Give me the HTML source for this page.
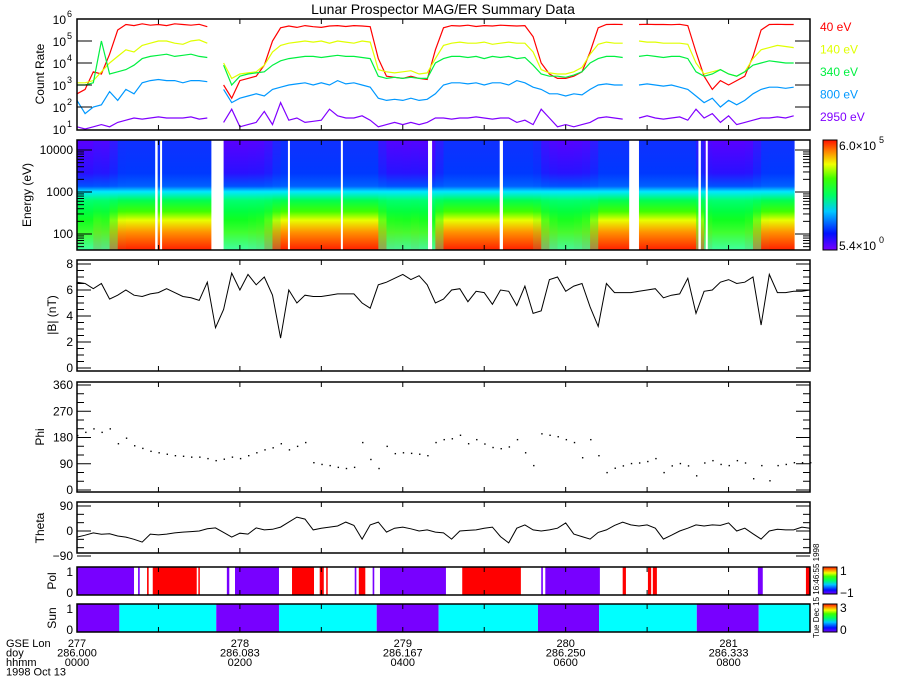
<!DOCTYPE html>
<html><head><meta charset="utf-8">
<style>
html,body{margin:0;padding:0;background:#fff;}
svg{display:block;font-family:"Liberation Sans",sans-serif;}
</style></head>
<body>
<svg id="chart" width="900" height="700" viewBox="0 0 900 700" xmlns="http://www.w3.org/2000/svg">
<defs>
<linearGradient id="cbar" x1="0" y1="1" x2="0" y2="0">
<stop offset="0" stop-color="#7800ff"/><stop offset="0.15" stop-color="#0010ff"/><stop offset="0.35" stop-color="#00c8ff"/><stop offset="0.5" stop-color="#00ff60"/><stop offset="0.65" stop-color="#40ff00"/><stop offset="0.78" stop-color="#f0ff00"/><stop offset="0.9" stop-color="#ff8000"/><stop offset="1" stop-color="#ff1000"/>
</linearGradient>
</defs>
<text x="443" y="14" text-anchor="middle" font-size="14">Lunar Prospector MAG/ER Summary Data</text>
</svg>
<script>
// ---- data (time grid: hours after 0000, step 0.1h) ----
const timeStep = 0.1;
const log40 = [2.6,2.8,3.6,3.5,4.4,5.5,5.75,5.7,5.78,5.72,5.75,5.7,5.78,5.75,5.72,5.76,5.65,null,3.0,2.4,3.2,3.3,3.4,3.9,5.0,5.6,5.68,5.62,5.7,5.65,5.62,5.68,5.7,5.66,5.7,5.68,5.65,4.2,3.4,3.35,3.3,3.4,3.3,3.25,4.6,5.6,5.7,5.68,5.72,5.66,5.7,5.68,5.72,5.7,5.68,5.7,5.2,4.0,3.5,3.3,3.3,3.4,3.6,4.5,5.6,5.75,5.76,5.75,null,5.75,5.76,5.75,5.75,5.74,5.76,5.7,4.5,3.4,2.8,3.2,3.0,3.2,3.4,4.3,5.5,5.75,5.76,5.75,5.75,null,null];
const log140 = [3.1,3.1,3.2,3.6,4.0,4.3,4.6,4.5,4.8,4.9,5.0,5.0,4.9,4.85,5.0,5.05,4.9,null,4.0,3.3,3.5,3.55,3.6,3.9,4.5,4.8,4.9,4.95,5.0,4.95,5.0,4.9,5.0,4.95,4.9,5.0,4.95,3.7,3.6,3.55,3.6,3.65,3.5,3.55,4.2,4.8,4.9,4.95,4.9,4.9,4.95,4.85,4.9,4.95,4.9,4.9,4.5,3.7,3.55,3.5,3.5,3.6,3.8,4.4,4.85,4.95,4.9,4.9,null,5.0,4.95,4.95,4.9,4.9,4.9,4.85,4.0,3.5,3.6,3.7,3.5,3.4,3.6,4.2,4.6,4.7,4.8,4.75,4.7,null,null];
const log340 = [3.0,3.0,3.1,5.0,3.5,3.6,3.7,3.9,4.2,4.3,4.35,4.4,4.3,4.35,4.4,4.3,4.25,null,3.9,3.0,3.4,3.5,3.55,3.6,3.9,4.1,4.2,4.25,4.3,4.3,4.25,4.3,4.35,4.3,4.3,4.25,4.2,3.4,3.3,3.35,3.3,3.35,3.3,3.3,4.0,4.2,4.3,4.3,4.25,4.3,4.2,4.3,4.25,4.3,4.2,4.25,3.9,3.5,3.4,3.4,3.35,3.45,3.6,4.0,4.2,4.3,4.3,4.25,null,4.3,4.35,4.3,4.25,4.3,4.3,4.2,3.6,3.4,3.5,3.7,3.5,3.4,3.6,3.9,4.0,4.1,4.05,4.0,4.0,null,null];
const log800 = [2.3,1.7,2.0,2.1,2.7,2.3,2.8,2.6,3.1,3.2,3.25,3.2,3.2,3.1,3.2,3.2,3.15,null,2.8,2.2,2.4,2.5,2.6,2.5,2.8,2.9,3.0,3.05,3.1,3.0,3.1,3.0,3.2,3.05,3.1,3.0,2.9,2.4,2.3,2.35,2.3,2.4,2.3,2.35,2.6,3.0,3.1,3.1,3.05,3.1,3.0,3.1,3.1,3.0,3.2,3.1,2.9,2.8,2.6,2.6,2.5,2.6,2.55,2.8,3.0,3.05,3.0,3.0,null,3.0,3.05,3.0,2.95,3.0,2.9,2.8,2.5,2.2,2.4,2.0,2.3,2.1,2.3,2.6,2.8,2.9,2.9,2.85,2.9,null,null];
const log2950 = [1.1,1.0,1.1,1.2,1.1,1.3,1.4,1.5,1.45,1.5,1.55,1.5,1.5,1.5,1.55,1.45,1.5,null,1.3,1.9,1.1,1.2,1.3,1.8,1.2,2.2,1.4,1.5,1.3,1.35,1.4,1.9,1.6,1.5,1.5,1.6,1.4,1.1,1.2,1.3,1.2,1.3,1.2,1.3,1.5,1.5,1.45,1.5,1.5,1.55,1.5,1.45,1.5,1.5,1.3,1.4,1.2,1.9,1.5,1.1,1.2,1.1,1.2,1.3,1.5,1.55,1.5,1.45,null,1.5,1.6,1.5,1.45,1.5,1.55,1.4,1.9,1.5,1.7,1.3,1.6,1.2,1.3,1.4,1.5,1.5,1.55,1.5,1.6,null,null];
const bMag = [6.6,6.5,6.1,6.5,5.3,5.6,6.0,5.6,5.5,5.7,5.8,6.1,5.8,5.5,5.4,5.2,6.6,3.1,4.5,7.3,6.0,7.2,6.4,7.0,5.6,2.3,6.0,5.0,5.6,5.5,5.5,5.6,5.7,5.7,5.7,5.0,4.6,6.4,6.6,6.9,7.2,6.8,7.1,6.4,5.0,5.3,6.0,6.1,5.1,5.9,5.8,4.9,6.0,5.9,4.8,6.3,4.2,4.4,6.8,7.0,5.9,6.3,6.5,4.7,3.2,6.5,5.8,5.8,5.8,5.9,6.0,6.1,5.4,5.6,5.7,6.9,4.2,5.9,6.0,6.6,6.8,6.5,6.6,7.0,3.3,7.2,5.8,5.8,5.9,5.9,6.0];
const phi = [189,200,212,200,212,161,180,154,145,135,130,125,120,118,115,115,110,103,108,115,110,120,130,140,147,161,140,152,165,96,90,86,80,76,80,165,107,76,152,127,130,128,125,120,165,175,178,190,161,175,160,148,144,150,175,130,86,195,190,185,175,165,113,175,120,62,77,85,93,95,100,110,62,85,93,85,51,95,103,90,86,103,95,41,86,34,86,90,96,96,96];
const theta = [-22,-15,-7,-12,-10,-18,-22,-30,-40,-11,-14,-11,-7,-4,-2,0,8,11,-5,-22,-8,-11,11,4,6,14,32,50,43,4,10,14,18,32,20,-29,22,32,-4,10,14,8,0,4,-4,-7,-29,0,2,4,10,14,-20,-43,10,22,4,0,4,10,29,-11,-20,-29,-5,4,20,32,22,18,22,10,-29,-15,0,10,22,18,22,20,29,0,10,-10,-29,0,6,4,4,14,10];
const specGaps = [[0.96,0.99],[1.02,1.03],[1.65,1.76],[2.59,2.61],[3.24,3.26],[4.31,4.36],[5.19,5.23],[6.78,6.89],[7.63,7.66],[7.72,7.74]];
const polStart = [0,0.75,0.86,0.93,1.49,1.84,1.94,2.64,2.98,3.06,3.41,3.46,3.63,3.72,4.73,5.70,5.75,6.70,7.01,7.07,8.36,8.95];
const polEnd   = [0.70,0.77,0.88,1.47,1.50,1.87,2.48,2.91,3.03,3.07,3.43,3.54,3.65,4.53,5.45,5.72,6.42,6.74,7.05,7.12,8.42,9.00];
const polValue = [-1,-1,1,1,1,-1,-1,1,1,1,-1,1,-1,-1,1,-1,-1,1,1,1,-1,1];
const sunStart = [0,0.52,1.71,2.48,3.68,4.44,5.66,6.41,7.61,8.37];
const sunEnd   = [0.52,1.71,2.48,3.68,4.44,5.66,6.41,7.61,8.37,9.0];
const sunValue = [0,1,0,1,0,1,0,1,0,1];
const countLabels = ["40 eV","140 eV","340 eV","800 eV","2950 eV"];
const lonLabels = ["277","278","279","280","281"];
const doyLabels = ["286.000","286.083","286.167","286.250","286.333"];
const hhmmLabels = ["0000","0200","0400","0600","0800"];
const bTicks = [0,2,4,6,8];
const phiTicks = [0,90,180,270,360];
const thetaTicks = [-90,0,90];
const energyTicks = [100,1000,10000];

// ---- layout ----
const svg = document.getElementById('chart');
const NS = 'http://www.w3.org/2000/svg';
const X0 = 77, X1 = 810, TMAX = 9;
const xs = t => X0 + t / TMAX * (X1 - X0);
const yCount = l => 19 + (6 - l) * 22;
const yEnergy = e => 150 + (4 - Math.log10(e)) * 42;
const yB = v => 368 - v * 13;
const yPhi = v => 490 - v * 105 / 360;
const yTheta = v => 531 - v * 25 / 90;
function mk(tag, attrs, parent) {
  const el = document.createElementNS(NS, tag);
  for (const k in attrs) el.setAttribute(k, attrs[k]);
  (parent || svg).appendChild(el);
  return el;
}
function txt(x, y, s, size, extra) {
  const t = mk('text', Object.assign({x: x, y: y, 'font-size': size || 12}, extra || {}));
  t.textContent = s;
  return t;
}
function frame(y0, y1, name) {
  const r = mk('rect', {x: X0, y: y0, width: X1 - X0, height: y1 - y0, fill: 'none', stroke: '#000', 'stroke-width': 1.5});
  
  
  for (let h = 1; h < TMAX; h++) {
    mk('line', {x1: xs(h), x2: xs(h), y1: y0, y2: y0 + 5, stroke: '#000'});
    mk('line', {x1: xs(h), x2: xs(h), y1: y1, y2: y1 - 5, stroke: '#000'});
  }
}
function ylab(x, y, s, name) {
  const t = txt(x, y, s, 12, {transform: 'rotate(-90 ' + x + ' ' + y + ')', 'text-anchor': 'middle'});
  
  
}
function linePath(arr, yf, color, name, w) {
  let d = '', pen = false;
  arr.forEach((v, i) => {
    if (v === null) { pen = false; return; }
    d += (pen ? 'L' : 'M') + xs(i * timeStep).toFixed(1) + ' ' + yf(v).toFixed(1);
    pen = true;
  });
  const p = mk('path', {d: d, fill: 'none', stroke: color, 'stroke-width': w || 1.2});
  
  
}

// ---- panel 1: count rates ----
const g1 = mk('g', {});


const countSeries = [log40, log140, log340, log800, log2950];
const countColors = ['#ff0000', '#e0ff00', '#00f040', '#0098ff', '#8000ff'];
countSeries.forEach((s, k) => linePath(s, yCount, countColors[k], 'count-line-' + countLabels[k].replace(' ', '-').toLowerCase()));
frame(19, 130, 'count-rate-frame');
for (let e = 1; e <= 6; e++) {
  const y = yCount(e);
  if (e < 6 && e > 1) {
    mk('line', {x1: X0, x2: X0 + 15, y1: y, y2: y, stroke: '#000'});
    mk('line', {x1: X1, x2: X1 - 15, y1: y, y2: y, stroke: '#000'});
  }
  const t = txt(66, y + 5, '10', 12, {'text-anchor': 'end'});
  
  
  txt(67, y - 2, String(e), 9);
}
ylab(44, 74, 'Count Rate', 'count-rate-axis-title');
countLabels.forEach((s, k) => {
  const t = txt(820, 31 + k * 22.5, s, 12, {fill: countColors[k]});
  
  
});

// ---- panel 2: spectrogram ----
const g2 = mk('g', {});


const wakeStops = ['#5a00ff','#2a10ff','#0050ff','#00e8ff','#00ff70','#00ff40','#10ff20','#40ff30','#40ffa0'];
const sheathStops = ['#1030ff','#0038ff','#0060ff','#00e8ff','#00ff50','#40ff00','#e8ff00','#ff9000','#ff2000'];
const stopOffs = [0, 0.3, 0.42, 0.47, 0.55, 0.65, 0.73, 0.84, 1];
function mixHex(a, b, f) {
  const pa = [1,3,5].map(i => parseInt(a.substr(i,2),16)), pb = [1,3,5].map(i => parseInt(b.substr(i,2),16));
  return 'rgb(' + pa.map((v,i) => Math.round(v + (pb[i]-v)*f)).join(',') + ')';
}
const defs = svg.querySelector('defs');
log40.forEach((v, i) => {
  if (v === null) return;
  const lv = Math.max(0, Math.min(1, (v - 3.2) / 2.4));
  const gid = 'sg' + i;
  const lg = mk('linearGradient', {id: gid, x1: 0, y1: 0, x2: 0, y2: 1}, defs);
  stopOffs.forEach((o, k) => mk('stop', {offset: o, 'stop-color': mixHex(wakeStops[k], sheathStops[k], lv)}, lg));
  const x0 = xs(i * timeStep), x1 = Math.min(xs((i + 1) * timeStep), 794);
  if (x1 <= x0) return;
  const r = mk('rect', {x: x0, y: 140, width: x1 - x0 + 0.6, height: 110, fill: 'url(#' + gid + ')'}, g2);
  
  
});
specGaps.forEach(gp => {
  const r = mk('rect', {x: xs(gp[0]), y: 140, width: Math.max(2, xs(gp[1]) - xs(gp[0])), height: 110, fill: '#fff'}, g2);
  
  
});
frame(140, 250, 'spectrogram-frame');
for (let dec = 1; dec <= 4; dec++) {
  for (let m = 1; m <= 9; m++) {
    const e = m * Math.pow(10, dec);
    const y = yEnergy(e);
    if (y < 140 || y > 250) continue;
    const len = m === 1 ? 15 : 7;
    mk('line', {x1: X0, x2: X0 + len, y1: y, y2: y, stroke: '#000'});
    mk('line', {x1: X1, x2: X1 - len, y1: y, y2: y, stroke: '#000'});
  }
}
energyTicks.forEach(e => {
  const t = txt(73, yEnergy(e) + 4, String(e), 12, {'text-anchor': 'end'});
  
  
});
ylab(31, 195, 'Energy (eV)', 'energy-axis-title');
const cb = mk('rect', {x: 823, y: 140, width: 14, height: 110, fill: 'url(#cbar)', stroke: '#000'});


txt(839, 150, '6.0×10', 12); txt(879, 143, '5', 9);
txt(839, 250, '5.4×10', 12); txt(879, 243, '0', 9);

// ---- panel 3: |B| ----
linePath(bMag, yB, '#000', 'b-magnitude-line', 1);
frame(260, 371, 'b-magnitude-frame');
for (let v = 0; v <= 8; v += 0.5) {
  const len = v % 2 === 0 ? 14 : 7;
  mk('line', {x1: X0, x2: X0 + len, y1: yB(v), y2: yB(v), stroke: '#000'});
  mk('line', {x1: X1, x2: X1 - len, y1: yB(v), y2: yB(v), stroke: '#000'});
}
bTicks.forEach(v => {
  const t = txt(73, yB(v) + 4, String(v), 12, {'text-anchor': 'end'});
  
  
});
ylab(56, 315, '|B| (nT)', 'b-axis-title');

// ---- panel 4: Phi ----
phi.forEach((v, i) => {
  const c = mk('rect', {x: xs(i * timeStep), y: yPhi(v), width: 1.4, height: 1.4, fill: '#000'});
  
  
});
frame(382, 492, 'phi-frame');
for (let v = 0; v <= 360; v += 30) {
  const len = v % 90 === 0 ? 14 : 7;
  mk('line', {x1: X0, x2: X0 + len, y1: yPhi(v), y2: yPhi(v), stroke: '#000'});
  mk('line', {x1: X1, x2: X1 - len, y1: yPhi(v), y2: yPhi(v), stroke: '#000'});
}
phiTicks.forEach(v => {
  const t = txt(73, yPhi(v) + 4, String(v), 12, {'text-anchor': 'end'});
  
  
});
ylab(44, 437, 'Phi', 'phi-axis-title');

// ---- panel 5: Theta ----
linePath(theta, yTheta, '#000', 'theta-line', 1);
frame(502, 553, 'theta-frame');
for (let v = -90; v <= 90; v += 30) {
  const len = v % 90 === 0 ? 14 : 7;
  mk('line', {x1: X0, x2: X0 + len, y1: yTheta(v), y2: yTheta(v), stroke: '#000'});
  mk('line', {x1: X1, x2: X1 - len, y1: yTheta(v), y2: yTheta(v), stroke: '#000'});
}
thetaTicks.forEach(v => {
  const t = txt(73, yTheta(v) + 4, v < 0 ? '\u2212' + (-v) : String(v), 12, {'text-anchor': 'end'});
  
  
});
ylab(44, 528, 'Theta', 'theta-axis-title');

// ---- panel 6: Pol ----
polStart.forEach((s, i) => {
  const r = mk('rect', {x: xs(s), y: 567, width: Math.max(1.5, xs(polEnd[i]) - xs(s)), height: 28, fill: polValue[i] > 0 ? '#ff0000' : '#7800ff'});
  
  
});
frame(567, 595, 'pol-frame');
txt(73, 576, '1', 12, {'text-anchor': 'end'}); txt(73, 597, '0', 12, {'text-anchor': 'end'});
ylab(56, 581, 'Pol', 'pol-axis-title');
const cb2 = mk('rect', {x: 823, y: 567, width: 14, height: 27, fill: 'url(#cbar)', stroke: '#000'});


txt(840, 575, '1', 12); txt(840, 597, '\u22121', 12);

// ---- panel 7: Sun ----
sunStart.forEach((s, i) => {
  const r = mk('rect', {x: xs(s), y: 604, width: xs(sunEnd[i]) - xs(s), height: 28, fill: sunValue[i] ? '#00ffff' : '#7800ff'});
  
  
});
frame(604, 632, 'sun-frame');
txt(73, 613, '1', 12, {'text-anchor': 'end'}); txt(73, 634, '0', 12, {'text-anchor': 'end'});
ylab(56, 618, 'Sun', 'sun-axis-title');
const cb3 = mk('rect', {x: 823, y: 604, width: 14, height: 28, fill: 'url(#cbar)', stroke: '#000'});


txt(840, 612, '3', 12); txt(840, 634, '0', 12);
const stamp = txt(819, 638, 'Tue Dec 15 16:46:55 1998', 8, {transform: 'rotate(-90 819 638)'});



// ---- time axis labels ----
['GSE Lon', 'doy', 'hhmm', '1998 Oct 13'].forEach((s, k) => {
  const t = txt(6, 647 + k * 9.5, s, 11);
  
  
});
hhmmLabels.forEach((h, k) => {
  const x = xs(k * 2);
  const a = txt(x, 647, lonLabels[k], 11, {'text-anchor': 'middle'});
  
  
  const b = txt(x, 656.5, doyLabels[k], 11, {'text-anchor': 'middle'});
  
  
  const c = txt(x, 666, h, 11, {'text-anchor': 'middle'});
  
  
});
</script>
</body></html>
